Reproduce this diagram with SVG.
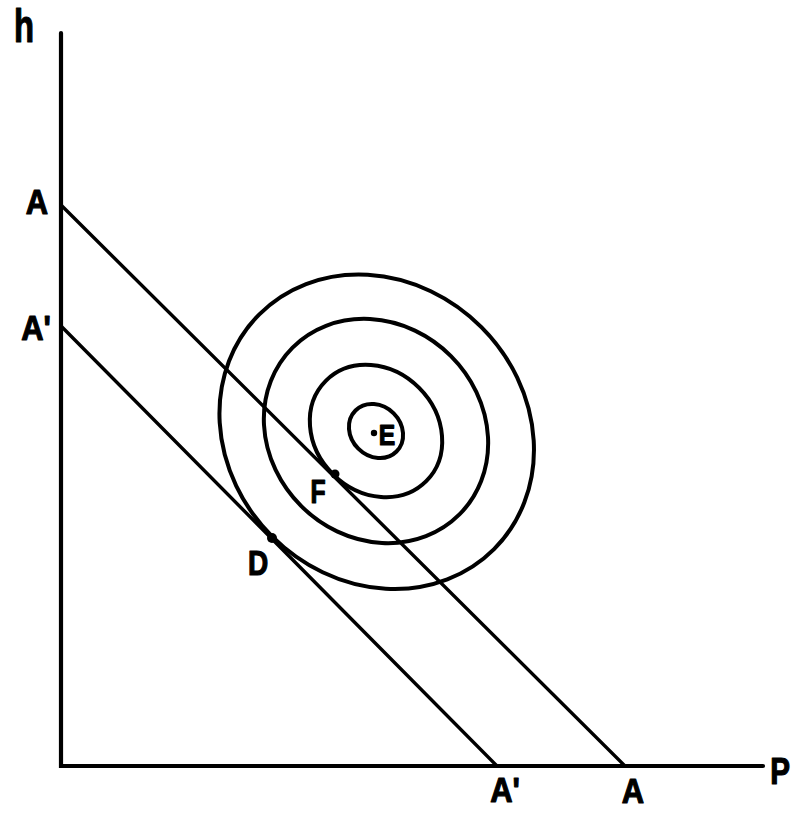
<svg xmlns="http://www.w3.org/2000/svg" width="794" height="814" viewBox="0 0 794 814">
<style>
.axis{stroke:#000;stroke-width:4.2;fill:none;stroke-linecap:round}
.bud{stroke:#000;stroke-width:3.4;fill:none;stroke-linecap:round}
.ind{stroke:#000;stroke-width:4;fill:none}
.lbl{font-family:"Liberation Sans",Arial,sans-serif;font-weight:bold;fill:#000;stroke:#000;stroke-width:1.2;stroke-linejoin:round;text-anchor:middle}
.pt{fill:#000}
</style>
<rect width="794" height="814" fill="#fff"/>
<g id="axes">
<path class="axis" d="M61,33 V766 H763"/>
<text class="lbl" font-size="47" transform="translate(24,42) scale(0.7,1)">h</text>
<text class="lbl" font-size="37" transform="translate(780,784) scale(0.8,1)">P</text>
</g>
<g id="connectors">
<line id="budget-A" class="bud" x1="61" y1="205" x2="625" y2="766"/>
<line id="budget-A-prime" class="bud" x1="61" y1="326" x2="497" y2="766"/>
</g>
<g id="curves" transform="translate(376,431) rotate(45)">
<ellipse class="ind" cx="1" cy="0" rx="166" ry="148"/>
<ellipse class="ind" cx="0" cy="0" rx="118" ry="106"/>
<ellipse class="ind" cx="0" cy="0" rx="71" ry="61"/>
<ellipse class="ind" cx="0" cy="0" rx="29" ry="25"/>
</g>
<g id="label-A-left"><text class="lbl" font-size="36" transform="translate(37,214) scale(0.86,1)">A</text></g>
<g id="label-A-prime-left"><text class="lbl" font-size="36" transform="translate(36,340) scale(0.86,1)">A'</text></g>
<g id="label-A-prime-bottom"><text class="lbl" font-size="36" transform="translate(505,802) scale(0.86,1)">A'</text></g>
<g id="label-A-bottom"><text class="lbl" font-size="36" transform="translate(633,803) scale(0.86,1)">A</text></g>
<g id="point-E">
<circle class="pt" cx="374" cy="433" r="3.2"/>
<text class="lbl" font-size="29" transform="translate(387,445) scale(0.85,1)">E</text>
</g>
<g id="point-F">
<circle class="pt" cx="335" cy="474" r="4.5"/>
<text class="lbl" font-size="33" transform="translate(318,503) scale(0.75,1)">F</text>
</g>
<g id="point-D">
<circle class="pt" cx="272" cy="538" r="5"/>
<text class="lbl" font-size="35" transform="translate(258,575) scale(0.8,1)">D</text>
</g>
</svg>
